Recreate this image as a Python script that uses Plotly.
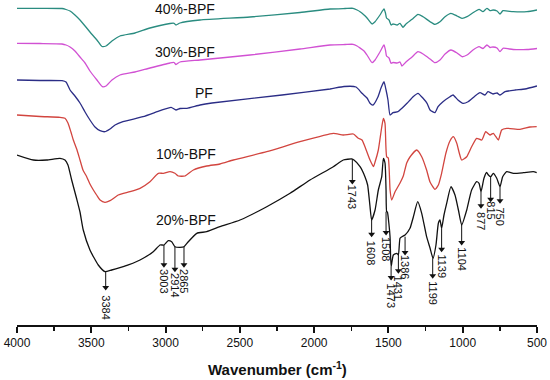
import plotly.graph_objects as go

# ---- 40%-BPF ----
wn_40 = [4000, 3845, 3697, 3670, 3643, 3610, 3576, 3542, 3509, 3462, 3428, 3401, 3361, 3307, 3206, 3105, 2970, 2943, 2930, 2903, 2768, 2432, 2095, 1893, 1792, 1738, 1711, 1691, 1664, 1644, 1610, 1590, 1557, 1530, 1520, 1513, 1496, 1482, 1469, 1442, 1422, 1402, 1382, 1341, 1301, 1267, 1220, 1187, 1153, 1119, 1079, 1038, 1005, 971, 931, 890, 864, 837, 816, 796, 769, 749, 729, 661, 567, 500]
t_40 = [316.7, 316.7, 316.5, 315.5, 314, 310, 305, 299, 293, 285, 278.5, 279, 284, 289, 292, 297, 301.5, 301.7, 300, 302, 305, 308, 312.5, 316, 316.5, 316.7, 315, 313.3, 310, 307, 301, 303.3, 310, 316, 312, 307, 305, 300, 301, 300, 301.7, 297.7, 301, 305.7, 310.7, 308.3, 303.3, 300.7, 303.3, 308.3, 311.7, 309, 306.7, 308.3, 312.3, 315.7, 313.3, 316.7, 314.3, 315, 314, 311, 314.3, 313.3, 313.3, 315]

# ---- 30%-BPF ----
wn_30 = [4000, 3845, 3697, 3670, 3643, 3610, 3576, 3542, 3509, 3462, 3425, 3401, 3361, 3307, 3206, 3105, 2970, 2943, 2930, 2903, 2768, 2432, 2095, 1893, 1792, 1738, 1711, 1691, 1664, 1644, 1610, 1590, 1557, 1530, 1520, 1513, 1496, 1482, 1469, 1442, 1422, 1409, 1382, 1341, 1301, 1267, 1220, 1187, 1153, 1119, 1079, 1038, 1005, 971, 931, 890, 864, 837, 816, 796, 769, 749, 729, 661, 567, 500]
t_30 = [281.7, 281.5, 281, 280, 278, 274, 268, 262, 254, 245, 238.3, 239, 245, 250, 253, 257, 262, 262.5, 260.5, 263, 265, 270, 276, 280, 280.5, 280.7, 279, 277, 274, 270, 262.3, 265, 273, 280, 275, 269, 267, 261.7, 262.5, 262, 263, 259, 263, 268, 273.3, 271, 266, 262.3, 265, 271, 275, 272, 268.3, 270, 275, 278.3, 276.5, 280, 277.5, 278, 277, 273.3, 276.7, 275.5, 275.5, 276.5]

# ---- PF ----
wn_pf = [4000, 3845, 3697, 3670, 3643, 3610, 3576, 3542, 3509, 3475, 3441, 3408, 3374, 3340, 3287, 3152, 3037, 2963, 2930, 2903, 2856, 2768, 2688, 2216, 1893, 1799, 1718, 1678, 1644, 1624, 1604, 1570, 1550, 1530, 1516, 1503, 1489, 1469, 1436, 1409, 1375, 1334, 1301, 1267, 1240, 1220, 1187, 1166, 1133, 1086, 1065, 1032, 998, 964, 917, 884, 850, 830, 796, 769, 749, 715, 648, 581, 500]
t_pf = [245, 244.5, 244.3, 243, 235, 229, 222, 213, 205, 198, 194.3, 193.3, 196, 200, 203.3, 208.3, 214.3, 217.7, 215, 216.5, 216.7, 220, 222, 230, 236, 238.5, 238, 231.7, 227, 221.7, 220, 228.3, 237, 243.3, 235, 225, 210, 212.3, 213.3, 216.7, 221.7, 228.3, 231.7, 226.7, 221.7, 215, 212.3, 218.3, 223.3, 228.3, 230, 225, 221.7, 223.3, 229, 232.3, 230, 233.3, 231, 232, 230, 233.3, 235, 236, 239]

# ---- 10%-BPF ----
wn_10 = [4000, 3845, 3711, 3677, 3657, 3637, 3621, 3596, 3576, 3556, 3531, 3509, 3486, 3462, 3441, 3408, 3374, 3318, 3239, 3172, 3105, 3049, 3015, 2970, 2937, 2914, 2869, 2813, 2723, 2634, 2544, 2319, 2095, 1871, 1804, 1736, 1703, 1678, 1658, 1624, 1601, 1590, 1568, 1545, 1534, 1523, 1512, 1501, 1489, 1478, 1456, 1422, 1400, 1377, 1355, 1310, 1276, 1243, 1220, 1187, 1164, 1142, 1113, 1086, 1063, 1040, 1025, 1007, 973, 940, 906, 872, 845, 816, 794, 760, 738, 704, 614, 547, 502]
t_10 = [210, 208.5, 207.7, 206.7, 202, 193, 185, 175, 165, 155, 148.3, 141, 135, 129.5, 125, 122.7, 124.3, 130, 133.3, 136.7, 143.3, 151.7, 151.7, 153.3, 151.7, 149, 149, 155, 159, 161, 165, 173.3, 183.3, 191.7, 190, 191, 186.7, 185, 178.3, 165, 158.3, 163, 175, 198, 206.7, 201.7, 168.3, 167, 135, 125, 133, 142, 149, 162, 168, 175, 168.3, 155, 143, 135.7, 140, 151.7, 172, 184, 188.3, 181.7, 173, 165, 168.3, 178.3, 186.7, 185, 193.3, 190, 191.7, 185, 195, 196.7, 195.7, 198, 198.3]

# ---- 20%-BPF ----
wn_20 = [4000, 3890, 3800, 3711, 3677, 3657, 3632, 3598, 3576, 3554, 3509, 3453, 3408, 3363, 3285, 3172, 3083, 3037, 3011, 2982, 2959, 2937, 2903, 2876, 2847, 2790, 2723, 2634, 2499, 2319, 2162, 2028, 1871, 1804, 1747, 1732, 1691, 1658, 1640, 1625, 1613, 1590, 1568, 1545, 1534, 1523, 1516, 1512, 1507, 1496, 1489, 1482, 1467, 1444, 1433, 1422, 1409, 1388, 1355, 1332, 1303, 1276, 1243, 1220, 1200, 1180, 1164, 1153, 1142, 1126, 1108, 1079, 1052, 1029, 1007, 973, 940, 906, 890, 877, 857, 839, 827, 812, 794, 771, 749, 731, 704, 659, 592, 525, 502]
t_20 = [170, 165, 165, 166.7, 165, 160, 145, 126, 113, 95, 75, 60, 53.3, 55, 58.3, 65, 73.3, 80, 80, 84.3, 83.3, 78.3, 77.7, 78.3, 83.3, 91.7, 93.3, 98.3, 105, 118.3, 131.7, 145, 158.3, 165, 166, 165, 158.3, 148.3, 140, 120, 105, 115, 135, 148.3, 166.7, 162, 135, 113.3, 113, 100, 88, 58.3, 70, 71.7, 70, 86.7, 88.3, 90, 96.7, 108.3, 123.3, 111.7, 88.3, 77, 66.7, 80, 101.7, 105, 96.7, 110, 121.7, 138.3, 130, 115, 100, 115, 135, 143.3, 141.7, 133.3, 146.7, 152.5, 150, 148.3, 151.7, 146.7, 138.3, 148.3, 153.3, 151.7, 152.3, 153.3, 152.3]

# ---- peak markers on 20%-BPF ----
peak_labels = ["3384", "3003", "2914", "2865", "1743", "1608", "1508", "1473", "1431", "1386", "1199", "1139", "1104", "877", "815", "750"]
peak_wn = [3403, 3011, 2937, 2876, 1743, 1613, 1516, 1482, 1433, 1388, 1202, 1142, 1007, 877, 812, 749]
peak_tail = [53.3, 80, 78.3, 78.3, 165, 105, 113.3, 58.3, 70, 88.3, 66.7, 96.7, 100, 133.3, 148.3, 138.3]
peak_head = [35, 57.7, 53.3, 57.7, 141, 88.3, 90, 45, 51.7, 70, 46.7, 73.3, 80, 116.7, 123.3, 121.7]
peak_text_y = [18, 44, 40, 44, 128, 72.5, 76, 29.3, 37, 58, 32, 59, 66, 104, 115, 108.5]

# ---- series labels ----
series_names = ["40%-BPF", "30%-BPF", "PF", "10%-BPF", "20%-BPF"]
label_wn = [2869, 2869, 2740, 2862, 2862]
label_t = [316, 273.3, 232, 171, 105]

colors = ["#2a8c80", "#d151d3", "#2b2d86", "#d2453f", "#111111"]
series = [(wn_40, t_40), (wn_30, t_30), (wn_pf, t_pf), (wn_10, t_10), (wn_20, t_20)]

FONT = "Arial, Liberation Sans, sans-serif"

fig = go.Figure()
for (wx, ty), c, n in zip(series, colors, series_names):
    fig.add_trace(go.Scatter(x=wx, y=ty, mode="lines", name=n,
                             line=dict(color=c, width=1.3, shape="spline", smoothing=0.5),
                             showlegend=False, hoverinfo="skip"))

# arrow shafts and heads (built from the peak lists)
shaft_x, shaft_y = [], []
for px, tl, hd in zip(peak_wn, peak_tail, peak_head):
    shaft_x += [px, px, None]
    shaft_y += [tl, hd + 2, None]
fig.add_trace(go.Scatter(x=shaft_x, y=shaft_y, mode="lines",
                         line=dict(color="#111", width=1), showlegend=False, hoverinfo="skip"))
fig.add_trace(go.Scatter(x=peak_wn, y=[h + 2.5 for h in peak_head], mode="markers",
                         marker=dict(symbol="triangle-down", size=6, color="#111", line=dict(width=0)),
                         showlegend=False, hoverinfo="skip"))

annotations = []
for n, lx, ly in zip(series_names, label_wn, label_t):
    annotations.append(dict(x=lx, y=ly, xref="x", yref="y", text=n, showarrow=False,
                            font=dict(family=FONT, size=14, color="#111"),
                            xanchor="center", yanchor="middle"))

for lab, px, ty in zip(peak_labels, peak_wn, peak_text_y):
    annotations.append(dict(x=px, y=ty, xref="x", yref="y", text=lab, showarrow=False,
                            textangle=90, font=dict(family=FONT, size=11, color="#111"),
                            xanchor="center", yanchor="middle"))

annotations.append(dict(x=0.5, y=-0.133, xref="paper", yref="paper",
                        text="<b>Wavenumber (cm<sup>-1</sup>)</b>", showarrow=False,
                        font=dict(family=FONT, size=15, color="#111"),
                        xanchor="center", yanchor="middle"))

fig.update_layout(
    width=550, height=380,
    margin=dict(l=17, r=13, t=0, b=55),
    paper_bgcolor="white", plot_bgcolor="white",
    annotations=annotations,
    hovermode=False,
    xaxis=dict(range=[4000, 500], showgrid=False, zeroline=False,
               showline=True, linecolor="#111", linewidth=2,
               ticks="outside", ticklen=6, tickwidth=2, tickcolor="#111",
               dtick=500, tick0=500,
               minor=dict(dtick=250, ticks="outside", ticklen=4, tickwidth=1.5, tickcolor="#111"),
               tickfont=dict(family=FONT, size=12, color="#111")),
    yaxis=dict(range=[0, 325], visible=False, showgrid=False, zeroline=False),
)

fig.write_html("out.html", config={"displayModeBar": False, "staticPlot": True},
               post_script="document.body.style.margin='0';document.body.style.overflow='hidden';")
